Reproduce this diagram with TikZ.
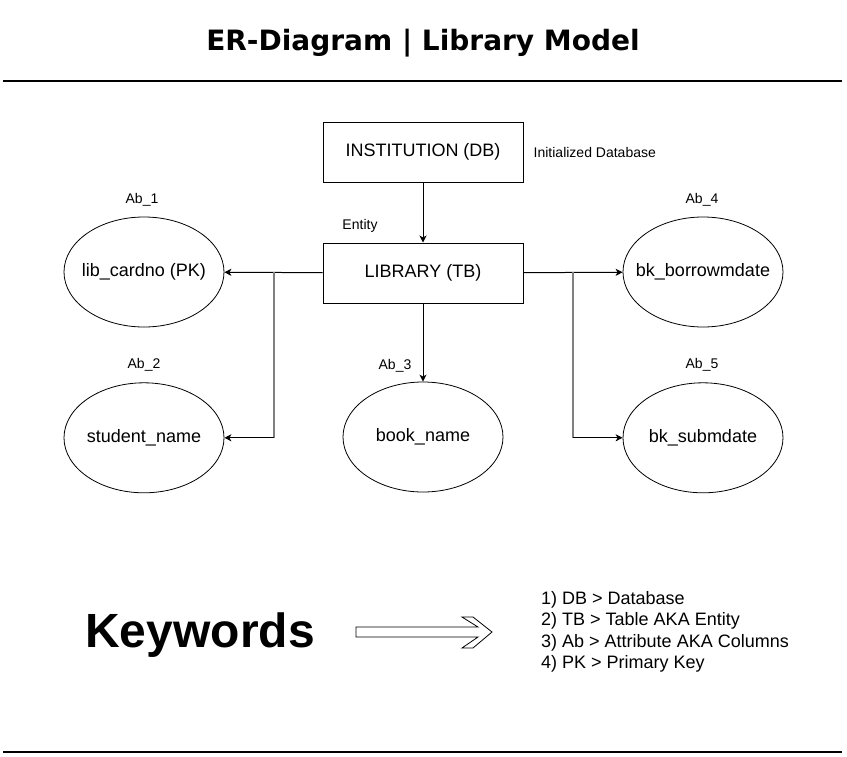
\documentclass[tikz,border=0pt]{standalone}
\usepackage{fontspec}
\setmainfont{Liberation Sans}
\newfontfamily\titlefont{DejaVu Sans}
\usepackage{tikz}
\usetikzlibrary{arrows.meta,shapes.geometric}
\usetikzlibrary{positioning}
\tikzset{
    entity/.style={
           rectangle,
           draw=black, line width=1pt,
           minimum width=200pt, minimum height=60pt,
           inner sep=0pt,
           font=\fontsize{18}{21.6}\selectfont,
           },
}
\tikzset{
    attrib/.style={
           ellipse,
           draw=black, line width=0.8pt,
           minimum width=160pt, minimum height=110pt,
           inner xsep=-40pt, inner ysep=0pt,
           font=\fontsize{18}{21.6}\selectfont,
           },
}
\tikzset{
    note/.style={
           inner sep=0pt,
           font=\fontsize{14}{16.8}\selectfont,
           },
    link/.style={line width=1pt, -{Stealth[length=7pt,width=7pt,inset=2pt]}},
    branch/.style={line width=1.6pt, draw=black!50},
    rule/.style={line width=1.5pt},
}

\begin{document}
\begin{tikzpicture}[x=1pt,y=-1pt]
\useasboundingbox (0,0) rectangle (847,756);
\node[font=\titlefont\bfseries\fontsize{28}{33}\selectfont](title) at (423,43){ER-Diagram | Library Model};
\coordinate (r1a) at (3,81);
\coordinate (r1b) at (842,81);
\draw[rule] (r1a) -- (r1b);
\node[entity](inst) at (423,152){INSTITUTION (DB)};
\node[entity,below = 60pt of inst](lib){LIBRARY (TB)};
\node[note,right = 10pt of inst](initdb){Initialized Database};
\node[note](entlbl) at (360,226){Entity};
\node[attrib](card) at (144,272){lib\_cardno (PK)};
\node[attrib,below = 55pt of card](stud){student\_name};
\node[attrib](book) at (423,437){book\_name};
\node[attrib](borrow) at (703,272){bk\_borrowmdate};
\node[attrib,below = 55pt of borrow](subm){bk\_submdate};
\node[note](ab1) at (142,200){Ab\_1};
\node[note](ab2) at (144,365){Ab\_2};
\node[note](ab3) at (395,366){Ab\_3};
\node[note](ab4) at (702,200){Ab\_4};
\node[note](ab5) at (702,365){Ab\_5};
\coordinate (jl) at (274,272);
\coordinate (jr) at (573,272);
\draw[link] (inst) -- (lib);
\draw[link] (lib) -- (card);
\draw[link] (lib) -- (borrow);
\draw[link] (lib) -- (book);
\draw[branch] (jl) -- (jl |- stud.east);
\draw[branch] (jr) -- (jr |- subm.west);
\draw[link] (jl |- stud.east) -- (stud);
\draw[link] (jr |- subm.west) -- (subm);
\node[font=\bfseries\fontsize{48}{56}\selectfont](kw) at (200,635){Keywords};
\draw[line width=0.8pt] (356,627) -- (478,627) -- (462,617) -- (473,617) -- (492,632)
    -- (473,648) -- (462,648) -- (478,637) -- (356,637) -- cycle;
\node[anchor=north west,align=left,inner sep=0pt,font=\fontsize{18}{21.4}\selectfont](keys) at (541,591){1) DB > Database\\2) TB > Table AKA Entity\\3) Ab > Attribute AKA Columns\\4) PK > Primary Key};
\coordinate (r2a) at (3,752);
\coordinate (r2b) at (842,752);
\draw[rule] (r2a) -- (r2b);
\end{tikzpicture}
\end{document}
